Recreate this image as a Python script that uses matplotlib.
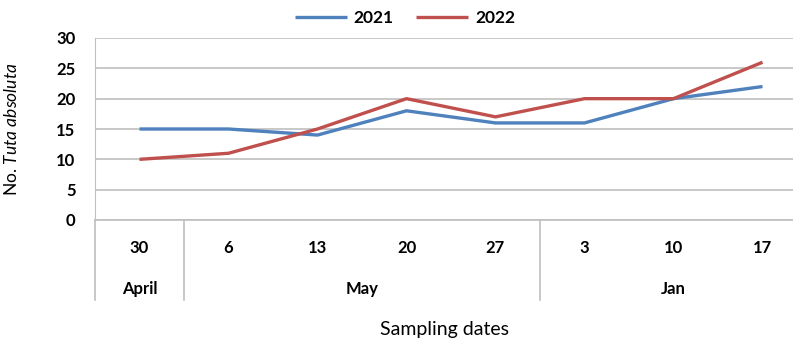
import matplotlib
matplotlib.use('Agg')
import matplotlib.pyplot as plt
import matplotlib.transforms as mtransforms

plt.rcParams['font.family'] = ['Lato', 'DejaVu Sans']
plt.rcParams['mathtext.fontset'] = 'custom'
plt.rcParams['mathtext.it'] = 'Lato:italic'
plt.rcParams['mathtext.rm'] = 'Lato'

# data
days = ['30', '6', '13', '20', '27', '3', '10', '17']
months = ['April', 'May', 'Jan']
month_sizes = [1, 4, 3]
y2021 = [15, 15, 14, 18, 16, 16, 20, 22]
y2022 = [10, 11, 15, 20, 17, 20, 20, 26]

blue = '#4F81BD'
red = '#C0504D'
grid_c = '#BFBFBF'

fig = plt.figure(figsize=(7.93, 3.44), dpi=100)
ax = fig.add_axes([95/793, 1-220/344, (807-95)/793, (220-38)/344])

x = list(range(len(days)))
ax.plot(x, y2021, color=blue, lw=2.4, label='2021', solid_capstyle='butt')
ax.plot(x, y2022, color=red, lw=2.4, label='2022', solid_capstyle='butt')

ax.set_xlim(-0.5, len(days) - 0.5)
ax.set_ylim(0, 30)
ax.set_yticks(range(0, 31, 5))
ax.tick_params(axis='y', length=0, pad=14, labelsize=12)
for lab in ax.get_yticklabels():
    lab.set_fontweight('bold')
ax.set_xticks([])
ax.yaxis.grid(True, color=grid_c, lw=1.2)
ax.set_axisbelow(True)
for s in ['top', 'right']:
    ax.spines[s].set_visible(False)
ax.spines['left'].set_color(grid_c)
ax.spines['bottom'].set_color(grid_c)
ax.spines['bottom'].set_linewidth(1.2)

# two-level category axis
trans = mtransforms.blended_transform_factory(ax.transData, ax.transAxes)
for i, d in enumerate(days):
    ax.text(i, -0.155, d, transform=trans, ha='center', va='center',
            fontsize=12, fontweight='bold')
start = 0
bounds = [-0.5]
for m, n in zip(months, month_sizes):
    ax.text(start + (n - 1) / 2, -0.38, m, transform=trans, ha='center',
            va='center', fontsize=12, fontweight='bold')
    start += n
    bounds.append(start - 0.5)
for b in bounds[:-1]:
    ax.plot([b, b], [0, -0.44], transform=trans, color=grid_c, lw=1.2,
            clip_on=False)

fig.text(445/793, 1-329/344, 'Sampling dates', ha='center', va='center',
         fontsize=14)
ax.set_ylabel(r'No. $\it{Tuta\ absoluta}$', fontsize=12.5)
ax.yaxis.set_label_coords(-0.105, 0.5)

ax.legend(loc='center', bbox_to_anchor=(405/793, 1-18/344),
          bbox_transform=fig.transFigure, ncol=2, frameon=False,
          prop={'weight': 'bold', 'size': 12.5}, handlelength=3.0,
          columnspacing=1.3, handletextpad=0.4)

fig.savefig('out.png', dpi=100)
